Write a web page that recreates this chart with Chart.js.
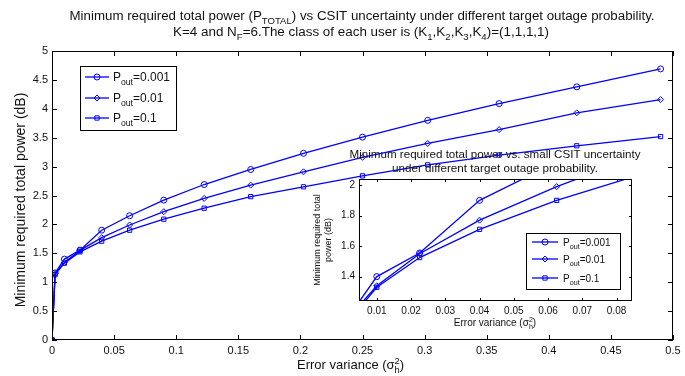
<!DOCTYPE html>
<html>
<head>
<meta charset="utf-8">
<title>Minimum required total power vs CSIT uncertainty</title>
<script src="https://cdn.jsdelivr.net/npm/chart.js@4.4.1/dist/chart.umd.min.js"></script>
<style>
body { margin: 0; background: #fff; }
#wrap { position: relative; width: 685px; height: 376px; }
#wrap canvas { position: absolute; }
</style>
</head>
<body>
<div id="wrap">
	<canvas id="mainChart" width="685" height="376" style="left:0;top:0"></canvas>
	<canvas id="insetChart" width="360" height="200" style="left:290px;top:140px"></canvas>
</div>
<script>
// data
var errVar = [0, 0.0025, 0.01, 0.0225, 0.04, 0.0625, 0.09, 0.1225, 0.16, 0.2025, 0.25, 0.3025, 0.36, 0.4225, 0.49];
var pout001 = [0, 1.16, 1.40, 1.555, 1.90, 2.15, 2.42, 2.69, 2.95, 3.23, 3.51, 3.80, 4.09, 4.38, 4.69];
var pout01 = [0, 1.15, 1.34, 1.55, 1.77, 1.99, 2.22, 2.45, 2.68, 2.91, 3.16, 3.40, 3.64, 3.93, 4.16];
var pout1 = [0, 1.13, 1.33, 1.525, 1.71, 1.90, 2.09, 2.28, 2.48, 2.65, 2.84, 3.03, 3.20, 3.36, 3.52];
var seriesNames = ['=0.001', '=0.01', '=0.1'];
var seriesMarkers = ['circle', 'rectRot', 'rect'];

var mainXTicks = [0, 0.05, 0.1, 0.15, 0.2, 0.25, 0.3, 0.35, 0.4, 0.45, 0.5];
var mainYTicks = [0, 0.5, 1, 1.5, 2, 2.5, 3, 3.5, 4, 4.5, 5];
var insetXTicks = [0.01, 0.02, 0.03, 0.04, 0.05, 0.06, 0.07, 0.08];
var insetYTicks = [1.4, 1.6, 1.8, 2];

var FONT = '"Liberation Sans", Arial, Helvetica, sans-serif';
var BLUE = '#0000ff';

function buildData() {
	var all = [pout001, pout01, pout1];
	return {
		datasets: all.map(function (vals, k) {
			return {
				label: 'Pout' + seriesNames[k],
				data: errVar.map(function (x, i) { return { x: x, y: vals[i] }; }),
				borderColor: BLUE,
				borderWidth: 1.3,
				pointStyle: seriesMarkers[k],
				pointRadius: 3,
				pointBorderColor: BLUE,
				pointBackgroundColor: 'rgba(0,0,0,0)',
				pointBorderWidth: 1,
				tension: 0
			};
		})
	};
}

// text with sub / superscripts
function partFont(size) { return size + 'px ' + FONT; }
function richWidth(ctx, parts, size) {
	var w = 0;
	parts.forEach(function (p) {
		if (typeof p === 'string') { ctx.font = partFont(size); w += ctx.measureText(p).width; }
		else {
			ctx.font = partFont(size * 0.72);
			w += Math.max(p.sub ? ctx.measureText(p.sub).width : 0, p.sup ? ctx.measureText(p.sup).width : 0);
		}
	});
	return w;
}
function drawRich(ctx, parts, x, y, size, align, target) {
	ctx.save();
	ctx.fillStyle = '#111';
	ctx.textBaseline = 'alphabetic';
	ctx.textAlign = 'left';
	var w = richWidth(ctx, parts, size);
	var sx = target ? target / w : 1;
	ctx.translate(x, y);
	ctx.scale(sx, 1);
	var cx = align === 'center' ? -w / 2 : (align === 'right' ? -w : 0);
	parts.forEach(function (p) {
		if (typeof p === 'string') {
			ctx.font = partFont(size);
			ctx.fillText(p, cx, 0);
			cx += ctx.measureText(p).width;
		} else {
			ctx.font = partFont(size * 0.72);
			var ww = 0;
			if (p.sub) { ctx.fillText(p.sub, cx, size * 0.3); ww = ctx.measureText(p.sub).width; }
			if (p.sup) { ctx.fillText(p.sup, cx, -size * 0.4); ww = Math.max(ww, ctx.measureText(p.sup).width); }
			cx += ww;
		}
	});
	ctx.restore();
}

function drawMarker(ctx, style, x, y, r) {
	ctx.beginPath();
	if (style === 'circle') ctx.arc(x, y, r, 0, Math.PI * 2);
	else if (style === 'rectRot') { ctx.moveTo(x, y - r); ctx.lineTo(x + r, y); ctx.lineTo(x, y + r); ctx.lineTo(x - r, y); ctx.closePath(); }
	else { var s = r * 0.71; ctx.rect(x - s, y - s, 2 * s, 2 * s); }
	ctx.stroke();
}

function drawLegend(ctx, box, rowsY, l0, l1, textX, size) {
	ctx.save();
	ctx.fillStyle = '#fff';
	ctx.fillRect(box[0], box[1], box[2] - box[0], box[3] - box[1]);
	ctx.strokeStyle = '#000';
	ctx.lineWidth = 1;
	ctx.strokeRect(box[0] + 0.5, box[1] + 0.5, box[2] - box[0], box[3] - box[1]);
	ctx.strokeStyle = BLUE;
	ctx.lineWidth = 1.3;
	for (var k = 0; k < 3; k++) {
		var y = rowsY[k];
		ctx.beginPath(); ctx.moveTo(l0, y); ctx.lineTo(l1, y); ctx.stroke();
		ctx.lineWidth = 1;
		drawMarker(ctx, seriesMarkers[k], (l0 + l1) / 2, y, 3);
		ctx.lineWidth = 1.3;
		drawRich(ctx, ['P', { sub: 'out' }, seriesNames[k]], textX, y + size * 0.36, size, 'left');
	}
	ctx.restore();
}

// box with inward tick marks on the four sides
function frameAndTicks(chart, xt, yt, len) {
	var ctx = chart.ctx, a = chart.chartArea;
	var sx = chart.scales.x, sy = chart.scales.y;
	ctx.save();
	ctx.strokeStyle = '#000';
	ctx.lineWidth = 1;
	ctx.strokeRect(Math.round(a.left) + 0.5, Math.round(a.top) + 0.5, Math.round(a.right - a.left) - 1, Math.round(a.bottom - a.top) - 1);
	ctx.beginPath();
	xt.forEach(function (v) {
		var px = Math.round(sx.getPixelForValue(v)) + 0.5;
		ctx.moveTo(px, a.bottom); ctx.lineTo(px, a.bottom - len);
		ctx.moveTo(px, a.top); ctx.lineTo(px, a.top + len);
	});
	yt.forEach(function (v) {
		var py = Math.round(sy.getPixelForValue(v)) + 0.5;
		ctx.moveTo(a.left, py); ctx.lineTo(a.left + len, py);
		ctx.moveTo(a.right, py); ctx.lineTo(a.right - len, py);
	});
	ctx.stroke();
	ctx.restore();
}

function axisOpts(min, max, tickList, fontSize, fit, pad) {
	return {
		type: 'linear', min: min, max: max,
		afterBuildTicks: function (s) { s.ticks = tickList.map(function (v) { return { value: v }; }); },
		afterFit: fit,
		grid: { display: false, drawTicks: false },
		border: { display: false },
		ticks: {
			padding: pad, autoSkip: false, maxRotation: 0, color: '#111',
			font: { family: FONT, size: fontSize },
			callback: function (v) { return String(v); }
		}
	};
}

var mainOverlay = {
	id: 'mainOverlay',
	afterDatasetsDraw: function (chart) { frameAndTicks(chart, mainXTicks, mainYTicks, 5); },
	afterDraw: function (chart) {
		var ctx = chart.ctx;
		drawRich(ctx, ['Minimum required total power (P', { sub: 'TOTAL' }, ') vs CSIT uncertainty under different target outage probability.'], 362, 20, 12, 'center', 585);
		drawRich(ctx, ['K=4 and N', { sub: 'F' }, '=6.The class of each user is (K', { sub: '1' }, ',K', { sub: '2' }, ',K', { sub: '3' }, ',K', { sub: '4' }, ')=(1,1,1,1)'], 361, 36, 12, 'center', 376);
		drawRich(ctx, ['Error variance (\u03c3', { sup: '2', sub: 'h' }, ')'], 297, 369, 13, 'left');
		ctx.save();
		ctx.translate(25, 200);
		ctx.rotate(-Math.PI / 2);
		drawRich(ctx, ['Minimum required total power (dB)'], 0, 0, 14, 'center');
		ctx.restore();
		drawLegend(ctx, [80, 66, 176, 130], [77, 98, 118], 85, 109, 113, 12);
	}
};

var insetOverlay = {
	id: 'insetOverlay',
	beforeDraw: function (chart) {
		var a = chart.chartArea;
		chart.ctx.save();
		chart.ctx.fillStyle = '#fff';
		chart.ctx.fillRect(a.left, a.top, a.right - a.left, a.bottom - a.top);
		chart.ctx.restore();
	},
	afterDatasetsDraw: function (chart) { frameAndTicks(chart, insetXTicks, insetYTicks, 3); },
	afterDraw: function (chart) {
		var ctx = chart.ctx;
		drawRich(ctx, ['Minimum required total power vs. small CSIT uncertainty'], 205, 18, 11, 'center', 291);
		drawRich(ctx, ['under different target outage probability.'], 205, 32, 11, 'center', 206);
		drawRich(ctx, ['Error variance (\u03c3', { sup: '2', sub: 'h' }, ')'], 205, 186, 10, 'center');
		ctx.save();
		ctx.translate(27, 100);
		ctx.rotate(-Math.PI / 2);
		drawRich(ctx, ['Minimum required total'], 0, 3, 9, 'center');
		drawRich(ctx, ['power (dB)'], 0, 14, 9, 'center');
		ctx.restore();
		drawLegend(ctx, [236, 93, 330, 149], [102, 119, 138], 242, 268, 273, 10);
	}
};

new Chart(document.getElementById('mainChart').getContext('2d'), {
	type: 'line',
	data: buildData(),
	options: {
		responsive: false, animation: false, devicePixelRatio: 1,
		layout: { padding: { left: 0, right: 12, top: 51, bottom: 0 } },
		plugins: { legend: { display: false }, tooltip: { enabled: false }, title: { display: false } },
		scales: {
			x: axisOpts(0, 0.5, mainXTicks, 11, function (s) { s.height = 36; }, 4),
			y: axisOpts(0, 5, mainYTicks, 11, function (s) { s.width = 52; }, 4)
		}
	},
	plugins: [mainOverlay]
});

new Chart(document.getElementById('insetChart').getContext('2d'), {
	type: 'line',
	data: buildData(),
	options: {
		responsive: false, animation: false, devicePixelRatio: 1,
		layout: { padding: { left: 0, right: 18, top: 39, bottom: 0 } },
		plugins: { legend: { display: false }, tooltip: { enabled: false }, title: { display: false } },
		scales: {
			x: axisOpts(0.0048, 0.0845, insetXTicks, 10, function (s) { s.height = 39; }, 4),
			y: axisOpts(1.24, 2.04, insetYTicks, 10, function (s) { s.width = 69; }, 4)
		}
	},
	plugins: [insetOverlay]
});
</script>
</body>
</html>
